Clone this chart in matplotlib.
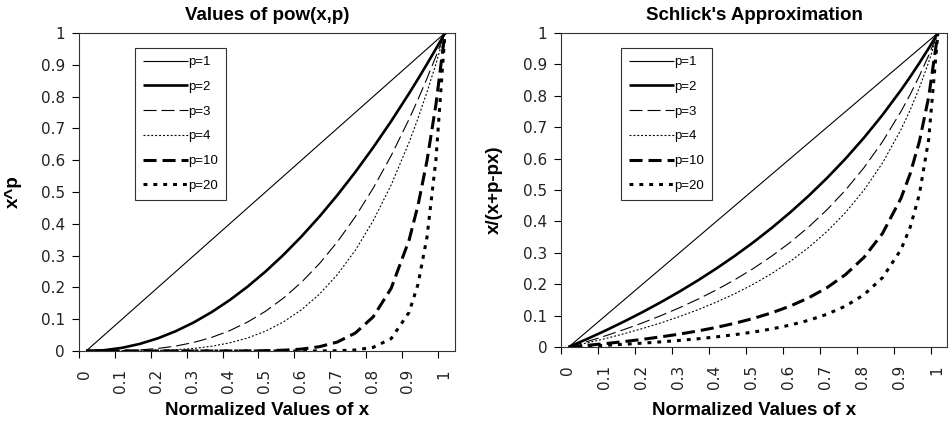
import matplotlib
matplotlib.use("Agg")
import matplotlib.pyplot as plt
import matplotlib.transforms as mtransforms

plt.rcParams['lines.scale_dashes'] = False

# ---- data ----
x = [0.0, 0.05, 0.1, 0.15, 0.2, 0.25, 0.3, 0.35, 0.4, 0.45, 0.5, 0.55, 0.6,
     0.65, 0.7, 0.75, 0.8, 0.85, 0.9, 0.925, 0.95, 0.975, 1.0]
x_shift = 0.02  # curves in the reference start slightly right of the 0 tick

labels = ["p=1", "p=2", "p=3", "p=4", "p=10", "p=20"]

pow_p1 = [0.0, 0.05, 0.1, 0.15, 0.2, 0.25, 0.3, 0.35, 0.4, 0.45, 0.5, 0.55, 0.6,
          0.65, 0.7, 0.75, 0.8, 0.85, 0.9, 0.925, 0.95, 0.975, 1.0]
pow_p2 = [0, .0025, .01, .0225, .04, .0625, .09, .1225, .16, .2025, .25, .3025, .36,
          .4225, .49, .5625, .64, .7225, .81, .8556, .9025, .9506, 1]
pow_p3 = [0, .0001, .001, .0034, .008, .0156, .027, .0429, .064, .0911, .125, .1664, .216,
          .2746, .343, .4219, .512, .6141, .729, .7915, .8574, .9269, 1]
pow_p4 = [0, 0, .0001, .0005, .0016, .0039, .0081, .015, .0256, .041, .0625, .0915, .1296,
          .1785, .2401, .3164, .4096, .522, .6561, .7321, .8145, .9037, 1]
pow_p10 = [0, 0, 0, 0, 0, 0, 0, 0, .0001, .0003, .001, .0025, .006,
           .0135, .0282, .0563, .1074, .1969, .3487, .4586, .5987, .7763, 1]
pow_p20 = [0, 0, 0, 0, 0, 0, 0, 0, 0, 0, 0, 0, 0,
           .0002, .0008, .0032, .0115, .0388, .1216, .2103, .3585, .6027, 1]

sch_p1 = [0.0, 0.05, 0.1, 0.15, 0.2, 0.25, 0.3, 0.35, 0.4, 0.45, 0.5, 0.55, 0.6,
          0.65, 0.7, 0.75, 0.8, 0.85, 0.9, 0.925, 0.95, 0.975, 1.0]
sch_p2 = [0, .0256, .0526, .0811, .1111, .1429, .1765, .2121, .25, .2903, .3333, .3793, .4286,
          .4815, .5385, .6, .6667, .7391, .8182, .8605, .9048, .9512, 1]
sch_p3 = [0, .0172, .0357, .0556, .0769, .1, .125, .1522, .1818, .2143, .25, .2895, .3333,
          .3824, .4375, .5, .5714, .6538, .75, .8043, .8636, .9286, 1]
sch_p4 = [0, .013, .027, .0423, .0588, .0769, .0968, .1186, .1429, .1698, .2, .234, .2727,
          .3171, .3684, .4286, .5, .5862, .6923, .7551, .8261, .907, 1]
sch_p10 = [0, .0052, .011, .0173, .0244, .0323, .0411, .0511, .0625, .0756, .0909, .1089, .1304,
           .1566, .1892, .2308, .2857, .3617, .4737, .5522, .6552, .7959, 1]
sch_p20 = [0, .0026, .0055, .0087, .0123, .0164, .021, .0262, .0323, .0393, .0476, .0576, .0698,
           .085, .1045, .1304, .1667, .2208, .3103, .3814, .4872, .661, 1]

xticks = [0, 0.1, 0.2, 0.3, 0.4, 0.5, 0.6, 0.7, 0.8, 0.9, 1]
xtick_labels = ["0", "0.1", "0.2", "0.3", "0.4", "0.5", "0.6", "0.7", "0.8", "0.9", "1"]
yticks = [0, 0.1, 0.2, 0.3, 0.4, 0.5, 0.6, 0.7, 0.8, 0.9, 1]
ytick_labels = ["0", "0.1", "0.2", "0.3", "0.4", "0.5", "0.6", "0.7", "0.8", "0.9", "1"]

# ---- styles ----
styles = [
    dict(lw=0.8, ls='-'),
    dict(lw=1.9, ls='-'),
    dict(lw=0.8, ls=(0, (9.4, 3.6))),
    dict(lw=0.8, ls=(0, (1.4, 1.4))),
    dict(lw=2.2, ls=(0, (9.4, 4.3))),
    dict(lw=2.2, ls=(0, (2.8, 4.3))),
]

fig = plt.figure(figsize=(9.48, 4.25), dpi=100)
W, H = 948, 425

def px_axes(l, t, r, b):
    return fig.add_axes([l / W, 1 - b / H, (r - l) / W, (b - t) / H])

ax1 = px_axes(79, 33, 455, 351)
ax2 = px_axes(561.3, 33, 947.5, 347)

tick_font = dict(family='DejaVu Sans', size=11)
bold_font = dict(family='Liberation Sans', weight='bold', size=13.5)

def setup(ax, series, title, ylabel, xmax, leg_anchor, ylab_x, xlab_y):
    xs = [v + x_shift for v in x]
    for s, lab, st in zip(series, labels, styles):
        ax.plot(xs, s, color='black', label=lab, solid_capstyle='butt',
                dash_capstyle='butt', **st)
    ax.set_xlim(0, xmax)
    ax.set_ylim(0, 1)
    ax.tick_params(axis='both', direction='out', length=5, width=0.8, color='black',
                   labelcolor='#222222')
    ax.tick_params(axis='y', pad=5)
    ax.tick_params(axis='x', pad=8)
    ax.set_xticks(xticks)
    ax.set_xticklabels(xtick_labels, rotation=90, va='top', ha='center',
                       fontdict=tick_font)
    ax.set_yticks(yticks)
    ax.set_yticklabels(ytick_labels, fontdict=tick_font)
    off = mtransforms.ScaledTranslation(6 / 100, 0, fig.dpi_scale_trans)
    for t in ax.xaxis.get_major_ticks():
        t.label1.set_transform(t.label1.get_transform() + off)
    for sp in ax.spines.values():
        sp.set_color('#333333')
        sp.set_linewidth(0.8)
    ax.set_title(title, fontdict=bold_font, pad=9)
    ax.set_xlabel("Normalized Values of x", fontdict=bold_font)
    ax.xaxis.set_label_coords(0.5, xlab_y)
    ax.xaxis.label.set_va('top')
    ax.set_ylabel(ylabel, fontdict=bold_font)
    ax.yaxis.set_label_coords(ylab_x, 0.5)
    ax.yaxis.label.set_va('center')
    leg = ax.legend(loc='upper left', bbox_to_anchor=leg_anchor, frameon=True,
                    fancybox=False, shadow=False, framealpha=1, edgecolor='#333333',
                    prop=dict(family='Liberation Sans', size=9.5),
                    handlelength=3.4, handletextpad=0.05, labelspacing=0.95,
                    borderpad=0.6, borderaxespad=0)
    leg.get_frame().set_linewidth(0.8)

setup(ax1, [pow_p1, pow_p2, pow_p3, pow_p4, pow_p10, pow_p20],
      "Values of pow(x,p)", "x^p", 1.048, ((135 - 79) / 376, 1 - (48 - 33) / 318),
      -0.1755, -0.16)
setup(ax2, [sch_p1, sch_p2, sch_p3, sch_p4, sch_p10, sch_p20],
      "Schlick's Approximation", "x/(x+p-px)", 1.046,
      ((621 - 561.3) / 386.2, 1 - (48 - 33) / 314), -0.174, -0.175)

fig.savefig("out.png", dpi=100)
